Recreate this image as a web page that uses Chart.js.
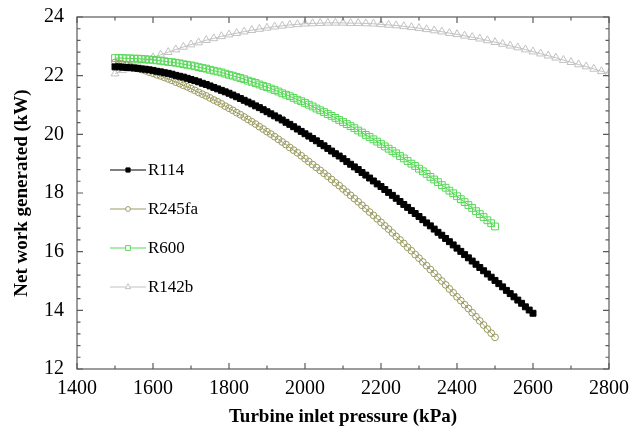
<!DOCTYPE html>
<html>
<head>
<meta charset="utf-8">
<script src="https://cdn.jsdelivr.net/npm/chart.js@4.4.1/dist/chart.umd.min.js"></script>
<style>
  html, body { margin: 0; padding: 0; background: #fff; }
  #wrap { width: 638px; height: 436px; }
</style>
</head>
<body>
<div id="wrap"><canvas id="workChart" width="638" height="436"></canvas></div>
<script>
// Net work vs turbine inlet pressure
const fluids = ['R114', 'R245fa', 'R600', 'R142b'];

// pressures start at 1500 kPa; R114/R245fa/R600 every 10 kPa, R142b every 20 kPa
const pressStart = 1500;
const pressStep = [10, 10, 10, 20];

const workR114 = [
  22.30,22.30,22.29,22.28,22.27,22.26,22.25,22.23,22.22,22.20,
  22.18,22.15,22.13,22.10,22.08,22.05,22.01,21.98,21.95,21.91,
  21.87,21.83,21.79,21.74,21.70,21.65,21.60,21.55,21.50,21.45,
  21.40,21.34,21.28,21.22,21.16,21.10,21.04,20.97,20.91,20.84,
  20.77,20.70,20.63,20.56,20.49,20.41,20.34,20.26,20.18,20.10,
  20.02,19.94,19.86,19.78,19.69,19.61,19.52,19.43,19.34,19.26,
  19.17,19.07,18.98,18.89,18.80,18.70,18.61,18.51,18.41,18.31,
  18.22,18.12,18.02,17.92,17.82,17.71,17.61,17.51,17.40,17.30,
  17.20,17.09,16.98,16.88,16.77,16.66,16.56,16.45,16.34,16.23,
  16.12,16.01,15.90,15.79,15.68,15.57,15.46,15.35,15.24,15.13,
  15.02,14.91,14.80,14.68,14.57,14.46,14.35,14.24,14.12,14.01,
  13.90
];
const workR245fa = [
  22.45,22.42,22.39,22.36,22.32,22.28,22.25,22.21,22.17,22.12,
  22.08,22.03,21.99,21.94,21.89,21.84,21.78,21.73,21.67,21.62,
  21.56,21.50,21.43,21.37,21.31,21.24,21.17,21.11,21.04,20.96,
  20.89,20.82,20.74,20.67,20.59,20.51,20.43,20.35,20.26,20.18,
  20.09,20.01,19.92,19.83,19.74,19.65,19.55,19.46,19.37,19.27,
  19.17,19.07,18.97,18.87,18.77,18.67,18.57,18.46,18.35,18.25,
  18.14,18.03,17.92,17.81,17.70,17.58,17.47,17.35,17.24,17.12,
  17.00,16.88,16.77,16.64,16.52,16.40,16.28,16.15,16.03,15.90,
  15.78,15.65,15.52,15.39,15.26,15.13,15.00,14.87,14.73,14.60,
  14.46,14.33,14.19,14.06,13.92,13.78,13.64,13.50,13.36,13.22,
  13.08
];
const workR600 = [
  22.60,22.60,22.60,22.59,22.59,22.58,22.58,22.57,22.56,22.55,
  22.54,22.52,22.51,22.49,22.47,22.46,22.44,22.42,22.39,22.37,
  22.35,22.32,22.29,22.26,22.24,22.20,22.17,22.14,22.11,22.07,
  22.03,22.00,21.96,21.92,21.88,21.83,21.79,21.75,21.70,21.65,
  21.61,21.56,21.51,21.46,21.40,21.35,21.30,21.24,21.18,21.13,
  21.07,21.01,20.95,20.88,20.82,20.76,20.69,20.63,20.56,20.49,
  20.42,20.35,20.28,20.21,20.13,20.06,19.98,19.91,19.83,19.75,
  19.67,19.59,19.51,19.43,19.35,19.26,19.18,19.09,19.00,18.92,
  18.83,18.74,18.65,18.55,18.46,18.37,18.27,18.18,18.08,17.99,
  17.89,17.79,17.69,17.59,17.49,17.38,17.28,17.18,17.07,16.97,
  16.86
];
const workR142b = [
  22.07,22.19,22.30,22.41,22.51,22.62,22.71,22.80,22.89,22.98,
  23.06,23.13,23.21,23.27,23.34,23.40,23.45,23.50,23.55,23.59,
  23.63,23.67,23.70,23.73,23.75,23.77,23.78,23.79,23.80,23.80,
  23.80,23.79,23.79,23.78,23.77,23.75,23.73,23.71,23.68,23.65,
  23.62,23.58,23.54,23.50,23.45,23.41,23.36,23.31,23.26,23.20,
  23.14,23.08,23.02,22.96,22.89,22.82,22.75,22.68,22.61,22.53,
  22.46,22.38,22.31,22.23,22.15,22.08
];

const xTicks = [1400, 1600, 1800, 2000, 2200, 2400, 2600, 2800];
const yTicks = [12, 14, 16, 18, 20, 22, 24];

const serif = '"Liberation Serif", "Times New Roman", serif';

function toPoints(values, step) {
  return values.map((v, i) => ({ x: pressStart + i * step, y: v }));
}

const styles = [
  { color: '#000000', fill: '#000000', shape: 'rect', r: 4.2 },
  { color: '#9b9b62', fill: 'rgba(0,0,0,0)', shape: 'circle', r: 3.4 },
  { color: '#55d855', fill: 'rgba(0,0,0,0)', shape: 'rect', r: 4.8 },
  { color: '#c2c2c2', fill: 'rgba(0,0,0,0)', shape: 'triangle', r: 4.6 }
];
const seriesValues = [workR114, workR245fa, workR600, workR142b];

const datasets = fluids.map((name, i) => ({
  label: name,
  data: toPoints(seriesValues[i], pressStep[i]),
  showLine: true,
  borderColor: styles[i].color,
  borderWidth: 1,
  backgroundColor: styles[i].fill,
  pointStyle: styles[i].shape,
  pointRadius: styles[i].r,
  pointBorderColor: styles[i].color,
  pointBackgroundColor: styles[i].fill,
  pointBorderWidth: 1,
  tension: 0
}));

// box round the plot with inward ticks on every side
const frameTicks = {
  id: 'frameTicks',
  afterDraw(chart) {
    const { ctx, chartArea: a, scales: { x, y } } = chart;
    ctx.save();
    ctx.strokeStyle = '#5a5a5a';
    ctx.lineWidth = 1.2;
    ctx.strokeRect(a.left, a.top, a.right - a.left, a.bottom - a.top);
    ctx.beginPath();
    for (let v = 1400; v <= 2800; v += 100) {
      const px = x.getPixelForValue(v);
      const len = v % 200 === 0 ? 6 : 3.5;
      ctx.moveTo(px, a.bottom); ctx.lineTo(px, a.bottom - len);
      ctx.moveTo(px, a.top); ctx.lineTo(px, a.top + len);
    }
    for (let k = 0; k <= 30; k++) {
      const v = 12 + k * 0.4;
      const py = y.getPixelForValue(v);
      const len = k % 5 === 0 ? 6 : 3.5;
      ctx.moveTo(a.left, py); ctx.lineTo(a.left + len, py);
      ctx.moveTo(a.right, py); ctx.lineTo(a.right - len, py);
    }
    ctx.stroke();
    ctx.restore();
  }
};

// legend drawn inside the plot, left side
const insideLegend = {
  id: 'insideLegend',
  afterDraw(chart) {
    const ctx = chart.ctx;
    const x0 = 110, x1 = 146, top = 170, gap = 39;
    ctx.save();
    chart.data.datasets.forEach((ds, i) => {
      const yy = top + i * gap;
      ctx.strokeStyle = ds.borderColor;
      ctx.lineWidth = 1;
      ctx.beginPath();
      ctx.moveTo(x0, yy); ctx.lineTo(x1, yy);
      ctx.stroke();
      ctx.fillStyle = ds.pointBackgroundColor === 'rgba(0,0,0,0)' ? '#ffffff' : ds.pointBackgroundColor;
      ctx.strokeStyle = ds.pointBorderColor;
      Chart.helpers.drawPoint(ctx, {
        pointStyle: ds.pointStyle,
        radius: ds.pointRadius * 0.7,
        rotation: 0,
        borderWidth: 1
      }, (x0 + x1) / 2, yy);
      ctx.fillStyle = '#000';
      ctx.font = '17px ' + serif;
      ctx.textBaseline = 'middle';
      ctx.textAlign = 'left';
      ctx.fillText(ds.label, x1 + 2, yy + 1);
    });
    ctx.restore();
  }
};

new Chart(document.getElementById('workChart').getContext('2d'), {
  type: 'scatter',
  data: { datasets },
  options: {
    responsive: false,
    animation: false,
    layout: { padding: { top: 14, right: 29, left: 0, bottom: 0 } },
    plugins: { legend: { display: false }, tooltip: { enabled: false } },
    scales: {
      x: {
        type: 'linear',
        min: 1400,
        max: 2800,
        afterBuildTicks: s => { s.ticks = xTicks.map(v => ({ value: v })); },
        afterFit: s => { s.height = 67; },
        grid: { display: false },
        border: { display: false },
        ticks: {
          color: '#000',
          font: { family: serif, size: 20 },
          padding: 0,
          maxRotation: 0,
          callback: v => String(v)
        },
        title: {
          display: true,
          text: 'Turbine inlet pressure (kPa)',
          color: '#000',
          font: { family: serif, size: 19, weight: 'bold' },
          padding: { top: 0, bottom: 8 }
        }
      },
      y: {
        type: 'linear',
        min: 12,
        max: 24,
        afterBuildTicks: s => { s.ticks = yTicks.map(v => ({ value: v })); },
        afterFit: s => { s.width = 77; },
        grid: { display: false },
        border: { display: false },
        ticks: {
          color: '#000',
          font: { family: serif, size: 20 },
          padding: 5,
          callback: v => String(v)
        },
        title: {
          display: true,
          text: 'Net work generated (kW)',
          color: '#000',
          font: { family: serif, size: 19, weight: 'bold' },
          padding: { top: 11, bottom: 0 }
        }
      }
    }
  },
  plugins: [frameTicks, insideLegend]
});
</script>
</body>
</html>
